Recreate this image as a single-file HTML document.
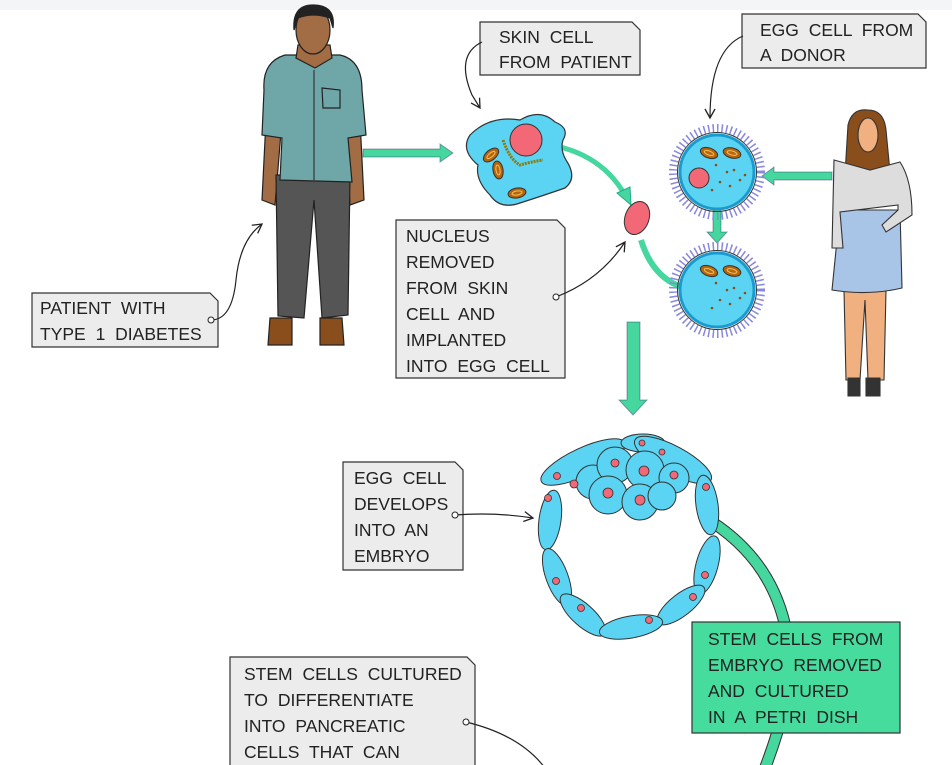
<!DOCTYPE html>
<html><head><meta charset="utf-8"><style>
html,body{margin:0;padding:0;background:#fff}
svg{display:block}
text{font-family:"Liberation Sans",sans-serif;font-size:17.5px;fill:#222;word-spacing:5px}
</style></head><body>
<svg width="952" height="765" viewBox="0 0 952 765" xmlns="http://www.w3.org/2000/svg">
<defs>
<marker id="ah" markerWidth="12" markerHeight="12" refX="10" refY="6" orient="auto" markerUnits="userSpaceOnUse">
<path d="M1,1 L10,6 L1,11" fill="none" stroke="#222" stroke-width="1.3"/></marker>
<g id="mito"><ellipse rx="9" ry="5" fill="#b8650c" stroke="#333" stroke-width="1"/><ellipse rx="5" ry="2" fill="none" stroke="#f0c060" stroke-width="1"/></g>
</defs>
<rect width="952" height="765" fill="#fff"/>
<rect width="952" height="10" fill="#f4f5f7"/>

<!-- MAN -->
<g stroke="#222" stroke-width="1.2">
<path d="M268,80 L262,200 L275,205 L282,120 Z" fill="#a26c44"/>
<path d="M358,80 L364,200 L350,205 L345,120 Z" fill="#a26c44"/>
<path d="M276,175 L350,175 L348,315 L322,318 L314,200 L304,318 L278,316 Z" fill="#555"/>
<path d="M270,318 L292,318 L292,345 L268,345 Z" fill="#8a4e1c"/>
<path d="M320,318 L342,318 L344,345 L320,345 Z" fill="#8a4e1c"/>
<path d="M285,55 Q262,62 264,90 L262,135 L282,138 L280,180 L352,182 L348,138 L366,135 L362,90 Q362,60 340,55 Z" fill="#6fa7a8"/>
<path d="M298,45 L330,45 L332,58 L315,68 L296,58 Z" fill="#a26c44"/>
<ellipse cx="313" cy="30" rx="17" ry="24" fill="#a26c44"/>
<path d="M294,30 Q292,5 313,5 Q336,5 333,28 L330,18 Q313,12 298,18 Z" fill="#222"/>
<path d="M322,88 L340,90 L340,108 L323,108 Z" fill="none"/>
</g>
<line x1="314" y1="70" x2="314" y2="180" stroke="#222" stroke-width="1"/>

<!-- WOMAN -->
<g stroke="#333" stroke-width="1.1">
<path d="M848,125 Q852,108 868,110 Q884,110 886,130 L890,172 L845,174 Z" fill="#8a4e1c"/>
<path d="M844,290 L886,290 L884,380 L868,380 L865,300 L860,380 L846,380 Z" fill="#f0b07f"/>
<path d="M848,378 L860,378 L860,396 L848,396 Z" fill="#333"/>
<path d="M866,378 L880,378 L880,396 L866,396 Z" fill="#333"/>
<path d="M840,210 L900,210 L902,288 Q868,296 832,290 Z" fill="#a8c4e6"/>
<path d="M834,160 L852,165 L870,170 L900,162 Q912,180 912,215 L886,232 L882,225 L898,210 L898,205 L840,212 L843,248 L832,248 Z" fill="#ddd"/>
<ellipse cx="868" cy="135" rx="10" ry="17" fill="#f0b07f"/>
</g>

<!-- green arrows -->
<g fill="#45d79e" stroke="#226" stroke-opacity=".4" stroke-width="1">
<path d="M363,149 L440,149 L440,144 L453,153 L440,162 L440,157 L363,157 Z"/>
<path d="M832,172 L774,172 L774,167 L762,176 L774,185 L774,180 L832,180 Z"/>
<path d="M713,210 L721,210 L721,232 L727,232 L717,243 L707,232 L713,232 Z"/>
<path d="M627,322 L640,322 L640,400 L647,400 L633,415 L619,400 L627,400 Z"/>
</g>
<path d="M535,143 Q598,148 625,195" fill="none" stroke="#45d79e" stroke-width="5"/>
<path d="M617,193 L631,205 L630,187 Z" fill="#45d79e" stroke="#2a8" stroke-width="1"/>
<path d="M641,240 Q655,285 695,290" fill="none" stroke="#45d79e" stroke-width="6"/>
<path d="M694,282 L706,292 L692,298 Z" fill="#45d79e" stroke="#2a8" stroke-width="1"/>

<!-- skin cell -->
<path d="M470,135 Q490,115 520,120 Q540,108 555,122 Q570,128 563,140 Q560,150 566,160 Q578,178 565,188 Q545,195 520,203 Q500,210 490,195 Q475,180 478,165 Q460,150 470,135 Z" fill="#5ad4f2" stroke="#333" stroke-width="1.2"/>
<circle cx="526" cy="140" r="16" fill="#f26877" stroke="#333" stroke-width="1"/>
<path d="M503,140 Q510,160 520,165 Q530,162 543,160" fill="none" stroke="#8a7a10" stroke-width="3" stroke-dasharray="2,1"/>
<use href="#mito" transform="translate(491,155) rotate(-40)"/>
<use href="#mito" transform="translate(498,170) rotate(80)"/>
<use href="#mito" transform="translate(517,193) rotate(-10)"/>

<ellipse cx="637" cy="218" rx="12" ry="17" transform="rotate(20 637 218)" fill="#f26877" stroke="#333" stroke-width="1"/>

<!-- egg cells -->
<g id="egg1">
<circle cx="717" cy="172" r="44" fill="none" stroke="#8888dd" stroke-width="8" stroke-dasharray="1.5,3"/>
<circle cx="717" cy="172" r="37" fill="#5ad4f2" stroke="#1a9bd0" stroke-width="3"/>
<circle cx="717" cy="172" r="39.5" fill="none" stroke="#333" stroke-width="1"/>
<use href="#mito" transform="translate(709,153) rotate(20)"/>
<use href="#mito" transform="translate(732,153) rotate(15)"/>
<g fill="#8a4e1c"><circle cx="716" cy="165" r="1.3"/><circle cx="727" cy="172" r="1.3"/><circle cx="734" cy="170" r="1.3"/><circle cx="740" cy="180" r="1.3"/><circle cx="720" cy="182" r="1.3"/><circle cx="730" cy="186" r="1.3"/><circle cx="745" cy="175" r="1.3"/><circle cx="712" cy="190" r="1.3"/></g>
</g>
<circle cx="699" cy="178" r="10" fill="#f26877" stroke="#333" stroke-width="1"/>
<use href="#egg1" transform="translate(0,118)"/>

<!-- embryo -->
<path d="M712,522 Q770,560 785,625" fill="none" stroke="#333" stroke-width="12"/>
<path d="M712,522 Q770,560 785,625" fill="none" stroke="#45d79e" stroke-width="10"/>
<g stroke="#333" stroke-width="1" fill="#5ad4f2">
<ellipse cx="583" cy="462" rx="46" ry="14" transform="rotate(-25 583 462)"/>
<ellipse cx="643" cy="443" rx="22" ry="9"/>
<ellipse cx="673" cy="460" rx="43" ry="14" transform="rotate(28 673 460)"/>
<circle cx="593" cy="482" r="17"/><circle cx="615" cy="465" r="18"/><circle cx="645" cy="470" r="19"/><circle cx="674" cy="478" r="15"/><circle cx="608" cy="495" r="19"/><circle cx="640" cy="502" r="18"/><circle cx="662" cy="496" r="14"/>
<ellipse cx="550" cy="520" rx="11" ry="30" transform="rotate(8 550 520)"/>
<ellipse cx="707" cy="505" rx="11" ry="30" transform="rotate(-8 707 505)"/>
<ellipse cx="557" cy="577" rx="11" ry="30" transform="rotate(-20 557 577)"/>
<ellipse cx="707" cy="565" rx="11" ry="30" transform="rotate(15 707 565)"/>
<ellipse cx="583" cy="615" rx="11" ry="29" transform="rotate(-48 583 615)"/>
<ellipse cx="681" cy="605" rx="11" ry="29" transform="rotate(52 681 605)"/>
<ellipse cx="631" cy="627" rx="32" ry="11" transform="rotate(-10 631 627)"/>
</g>
<g fill="#f26877" stroke="#333" stroke-width=".8">
<circle cx="557" cy="476" r="3.5"/><circle cx="642" cy="443" r="3"/><circle cx="662" cy="452" r="3"/><circle cx="574" cy="484" r="4"/><circle cx="615" cy="463" r="4"/><circle cx="644" cy="471" r="5"/><circle cx="674" cy="475" r="4"/><circle cx="608" cy="493" r="5"/><circle cx="640" cy="500" r="5"/>
<circle cx="548" cy="498" r="3.5"/><circle cx="706" cy="487" r="3.5"/><circle cx="556" cy="581" r="3.5"/><circle cx="705" cy="575" r="3.5"/><circle cx="581" cy="608" r="3.5"/><circle cx="693" cy="597" r="3.5"/><circle cx="649" cy="620" r="3.5"/>
</g>
<path d="M778,730 Q772,750 765,768" fill="none" stroke="#333" stroke-width="12"/>
<path d="M778,730 Q772,750 765,768" fill="none" stroke="#45d79e" stroke-width="10"/>

<!-- label boxes -->
<g stroke="#333" stroke-width="1.2" fill="#ececec">
<path d="M480,22 L632,22 L640,30 L640,75 L480,75 Z"/>
<path d="M742,14 L918,14 L926,22 L926,68 L742,68 Z"/>
<path d="M396,220 L557,220 L565,228 L565,378 L396,378 Z"/>
<path d="M32,293 L210,293 L218,301 L218,347 L32,347 Z"/>
<path d="M343,462 L455,462 L463,470 L463,570 L343,570 Z"/>
<path d="M230,657 L467,657 L475,665 L475,770 L230,770 Z"/>
</g>
<rect x="692" y="622" width="208" height="111" fill="#45dc9e" stroke="#333" stroke-width="1.2"/>

<!-- connectors -->
<g fill="none" stroke="#222" stroke-width="1.2">
<path d="M482,42 Q455,55 472,95 L480,108" marker-end="url(#ah)"/>
<path d="M743,36 Q710,50 710,118" marker-end="url(#ah)"/>
<path d="M556,297 Q600,280 625,242" marker-end="url(#ah)"/>
<path d="M211,320 Q232,320 236,280 Q240,240 262,224" marker-end="url(#ah)"/>
<path d="M455,515 Q495,512 533,518" marker-end="url(#ah)"/>
<path d="M466,722 Q520,735 545,768"/>
</g>
<g fill="#fff" stroke="#222" stroke-width="1"><circle cx="556" cy="297" r="3"/><circle cx="211" cy="320" r="3"/><circle cx="455" cy="515" r="3"/><circle cx="466" cy="722" r="3"/></g>

<!-- text -->
<text x="499" y="43">SKIN CELL</text><text x="499" y="68">FROM PATIENT</text>
<text x="760" y="36">EGG CELL FROM</text><text x="760" y="61">A DONOR</text>
<text x="406" y="242">NUCLEUS</text><text x="406" y="268">REMOVED</text><text x="406" y="294">FROM SKIN</text><text x="406" y="320">CELL AND</text><text x="406" y="346">IMPLANTED</text><text x="406" y="372">INTO EGG CELL</text>
<text x="40" y="314">PATIENT WITH</text><text x="40" y="340">TYPE 1 DIABETES</text>
<text x="354" y="484">EGG CELL</text><text x="354" y="510">DEVELOPS</text><text x="354" y="536">INTO AN</text><text x="354" y="562">EMBRYO</text>
<text x="708" y="645">STEM CELLS FROM</text><text x="708" y="671">EMBRYO REMOVED</text><text x="708" y="697">AND CULTURED</text><text x="708" y="723">IN A PETRI DISH</text>
<text x="244" y="680">STEM CELLS CULTURED</text><text x="244" y="706">TO DIFFERENTIATE</text><text x="244" y="732">INTO PANCREATIC</text><text x="244" y="758">CELLS THAT CAN</text>
</svg>
</body></html>
